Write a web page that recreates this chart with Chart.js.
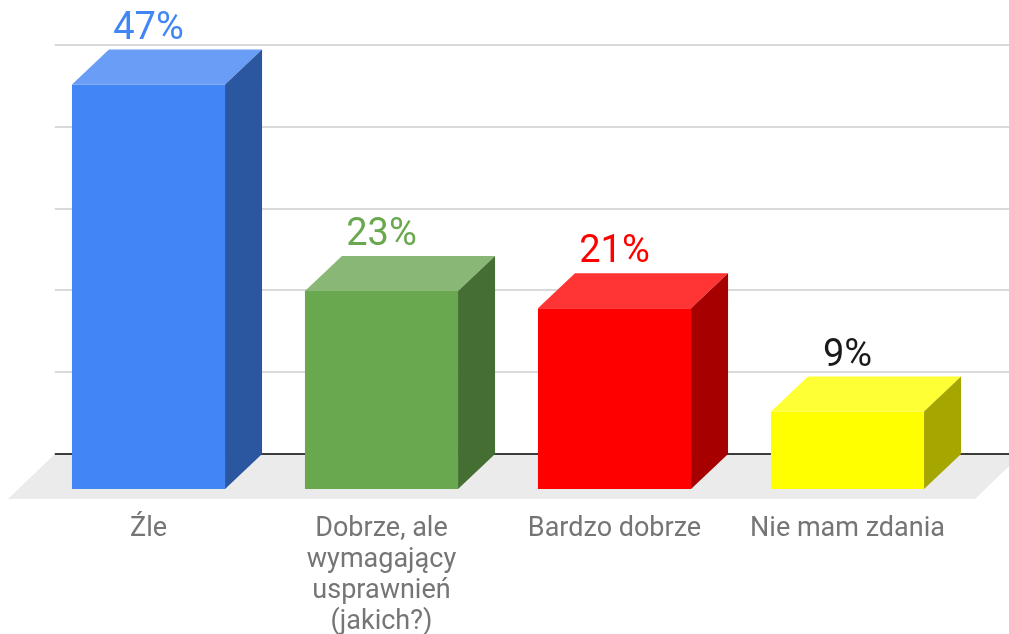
<!DOCTYPE html>
<html>
<head>
<meta charset="utf-8">
<script src="https://cdn.jsdelivr.net/npm/chart.js@4.4.1/dist/chart.umd.min.js"></script>
<style>
  html, body { margin: 0; padding: 0; background: #fff; }
  canvas { display: block; }
</style>
</head>
<body>
<canvas id="chart" width="1009" height="634"></canvas>
<script>
// data
const categories = ['Źle', ['Dobrze, ale', 'wymagający', 'usprawnień', '(jakich?)'], 'Bardzo dobrze', 'Nie mam zdania'];
const values = [47, 23, 21, 9];
const valueLabels = ['47%', '23%', '21%', '9%'];
const gridTicks = [0, 10, 20, 30, 40, 50];

// colours per bar: front / top / side / label
const frontColors = ['#4285f4', '#6aa84f', '#ff0000', '#ffff00'];
const topColors = ['#6a9df6', '#89b876', '#ff3535', '#ffff35'];
const sideColors = ['#2b56a0', '#456e33', '#a60000', '#a6a600'];
const labelColors = ['#4285f4', '#6aa84f', '#ff0000', '#1a1a1a'];

const DEPTH_X = 37;
const DEPTH_Y = 35;

// floor, grid lines, and the 3D faces of the bars
const bars3d = {
    id: 'bars3d',
    beforeDatasetsDraw(chart) {
        const ctx = chart.ctx;
        const area = chart.chartArea;
        const base = chart.scales.y.getPixelForValue(0);
        const back = base - DEPTH_Y;
        const W = chart.width;

        // floor
        const fl = area.left - 24;
        const fr = area.right + 11;
        const fy = base + 10;
        const fd = fy - back;
        ctx.save();
        ctx.fillStyle = '#ebebeb';
        ctx.beginPath();
        ctx.moveTo(fl, fy);
        ctx.lineTo(fl + fd * 1.04, back);
        ctx.lineTo(fr + fd * 1.04, back);
        ctx.lineTo(fr, fy);
        ctx.closePath();
        ctx.fill();

        // grid (back wall)
        const gx = fl + fd * 1.04;
        gridTicks.forEach(t => {
            const gy = Math.round(chart.scales.yGrid.getPixelForValue(t));
            ctx.beginPath();
            ctx.moveTo(gx, gy);
            ctx.lineTo(W, gy);
            ctx.lineWidth = t === 0 ? 2 : 1.5;
            ctx.strokeStyle = t === 0 ? '#3c3c3c' : '#cccccc';
            ctx.stroke();
        });
        ctx.restore();
    },
    afterDatasetsDraw(chart) {
        const ctx = chart.ctx;
        const meta = chart.getDatasetMeta(0);
        ctx.save();
        meta.data.forEach((bar, i) => {
            const p = bar.getProps(['x', 'y', 'base', 'width'], true);
            const l = p.x - p.width / 2;
            const r = p.x + p.width / 2;

            // top
            ctx.fillStyle = topColors[i];
            ctx.beginPath();
            ctx.moveTo(l, p.y);
            ctx.lineTo(l + DEPTH_X, p.y - DEPTH_Y);
            ctx.lineTo(r + DEPTH_X, p.y - DEPTH_Y);
            ctx.lineTo(r, p.y);
            ctx.closePath();
            ctx.fill();

            // side
            ctx.fillStyle = sideColors[i];
            ctx.beginPath();
            ctx.moveTo(r, p.y);
            ctx.lineTo(r + DEPTH_X, p.y - DEPTH_Y);
            ctx.lineTo(r + DEPTH_X, p.base - DEPTH_Y);
            ctx.lineTo(r, p.base);
            ctx.closePath();
            ctx.fill();

            // value label
            ctx.fillStyle = labelColors[i];
            ctx.font = '38px Roboto';
            ctx.textAlign = 'center';
            ctx.textBaseline = 'alphabetic';
            ctx.fillText(valueLabels[i], p.x, p.y - DEPTH_Y - 11);
        });
        ctx.restore();
    }
};

const ctx = document.getElementById('chart');

new Chart(ctx, {
    type: 'bar',
    data: {
        labels: categories,
        datasets: [{
            data: values,
            backgroundColor: frontColors,
            borderWidth: 0,
            barPercentage: 0.657,
            categoryPercentage: 1
        }]
    },
    options: {
        responsive: false,
        animation: false,
        layout: {
            padding: { top: 45, left: 32, right: 45, bottom: 0 }
        },
        plugins: {
            legend: { display: false },
            tooltip: { enabled: false }
        },
        scales: {
            x: {
                grid: { display: false },
                border: { display: false },
                ticks: {
                    color: '#757575',
                    font: { family: 'Roboto', size: 27, lineHeight: 1.15 },
                    padding: 17,
                    maxRotation: 0,
                    autoSkip: false
                },
                afterFit(scale) { scale.height = 145; }
            },
            y: {
                display: false,
                min: 0,
                max: 51.6
            },
            yGrid: {
                display: false,
                min: -4.28,
                max: 50
            }
        }
    },
    plugins: [bars3d]
});
</script>
</body>
</html>
